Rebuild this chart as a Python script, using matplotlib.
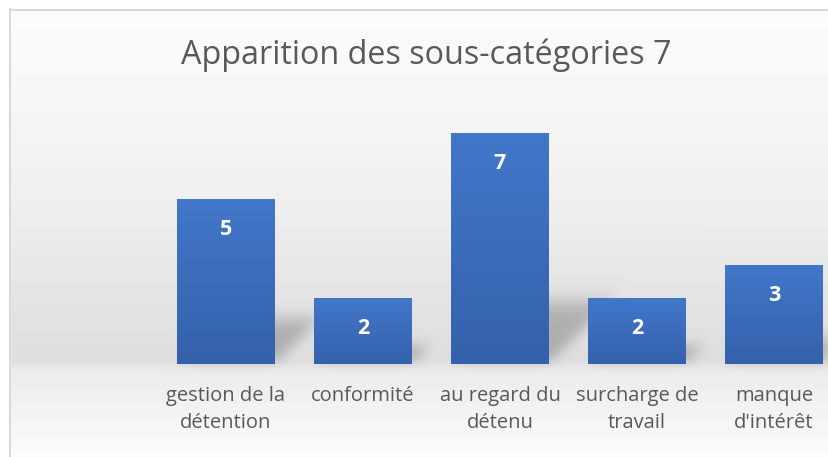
import numpy as np
import matplotlib
matplotlib.use("Agg")
from matplotlib import pyplot as plt
from matplotlib.patches import Rectangle

categories = ["gestion de la\ndétention", "conformité", "au regard du\ndétenu",
              "surcharge de\ntravail", "manque\nd'intérêt"]
counts = [5, 2, 7, 2, 3]
title = "Apparition des sous-catégories 7"

W, H = 829, 457
FONT = ["Open Sans", "DejaVu Sans"]

fig = plt.figure(figsize=(W / 100, H / 100), dpi=100)

# background axes in pixel units (y from bottom)
bg = fig.add_axes([0, 0, 1, 1], zorder=0)
bg.set_xlim(0, W)
bg.set_ylim(0, H)
bg.axis("off")

# main plot axes: category spacing 137 px, baseline 364 px from top
left_px, base_px, unit_px, step_px = 157.5, H - 364, 33.0, 137.0
ymax = 8
ax = fig.add_axes([left_px / W, base_px / H, (W - left_px) / W, ymax * unit_px / H], zorder=1)
ax.patch.set_alpha(0)
for s in ax.spines.values():
    s.set_visible(False)
ax.set_yticks([])

x = np.arange(len(categories))
bars = ax.bar(x, counts, width=98 / step_px, color="none", edgecolor="none", zorder=2)

# gradient fill for each bar
grad = np.linspace(0, 1, 256).reshape(-1, 1)
cmap = matplotlib.colors.LinearSegmentedColormap.from_list("bar", ["#3461ab", "#4277c9"])
for b in bars:
    x0, y0 = b.get_x(), b.get_y()
    im = ax.imshow(grad, extent=[x0, x0 + b.get_width(), y0, y0 + b.get_height()],
                   origin="lower", cmap=cmap, aspect="auto", zorder=2)
    im.set_clip_path(b)
ax.set_xlim(-0.5, -0.5 + (W - left_px) / step_px)
ax.set_ylim(0, ymax)

for b, v in zip(bars, counts):
    ax.annotate(str(v), (b.get_x() + b.get_width() / 2, v), xytext=(0, -22),
                textcoords="offset points", ha="center", va="center",
                color="white", fontsize=15.5, fontweight="bold", family=FONT, zorder=3)

ax.set_xticks(x)
ax.set_xticklabels(categories, fontsize=14.5, color="#595959", family=FONT, linespacing=1.5)
ax.tick_params(axis="x", length=0, pad=15.5)

# background gradient + perspective shadows, in pixels
yy, xx = np.mgrid[0:H, 0:W]
top = H - yy  # distance from top
shade = np.interp(top, [0, 60, 200, 330, 361, 372, 420, 457],
                  [252, 250, 240, 225, 223, 236, 245, 252])

fig.canvas.draw()
shadow = np.zeros((H, W))
for b in bars:
    (px0, py0), (px1, py1) = ax.transData.transform([(b.get_x(), 0),
                                                      (b.get_x() + b.get_width(), b.get_height())])
    hgt = py1 - py0
    up = yy - py0  # pixels above baseline
    prof = np.where(up <= 0.21 * hgt, 1.0,
                    np.exp(-0.5 * ((up - 0.21 * hgt) / (0.05 * hgt)) ** 2)) * (up >= 3)
    shift = 1.0 * up
    mask = (xx >= px0 + shift) & (xx <= px1 + shift)
    shadow = np.maximum(shadow, mask * prof)

# separable blur
k = np.exp(-0.5 * (np.arange(-18, 19) / 6.0) ** 2)
k /= k.sum()
shadow = np.apply_along_axis(lambda r: np.convolve(r, k, mode="same"), 1, shadow)
shadow = np.apply_along_axis(lambda c: np.convolve(c, k, mode="same"), 0, shadow)
shade = shade * (1 - 0.22 * shadow)

img = np.repeat((shade / 255.0)[:, :, None], 3, axis=2)
bg.imshow(img, extent=[0, W, 0, H], origin="lower", aspect="auto", zorder=0)
# white outside chart border
bg.add_patch(Rectangle((0, 0), 10, H, color="white", zorder=1))
bg.add_patch(Rectangle((0, H - 9), W, 9, color="white", zorder=1))
bg.plot([10.5, 10.5], [0, H - 9], color="#d9d9d9", lw=1.5, zorder=2)
bg.plot([10, W], [H - 9.5, H - 9.5], color="#d9d9d9", lw=1.5, zorder=2)
bg.set_xlim(0, W)
bg.set_ylim(0, H)

fig.text(426 / W, 1 - 55 / H, title, ha="center", va="center", fontsize=23.3,
         color="#595959", family=FONT)

fig.savefig("out.png", dpi=100)
